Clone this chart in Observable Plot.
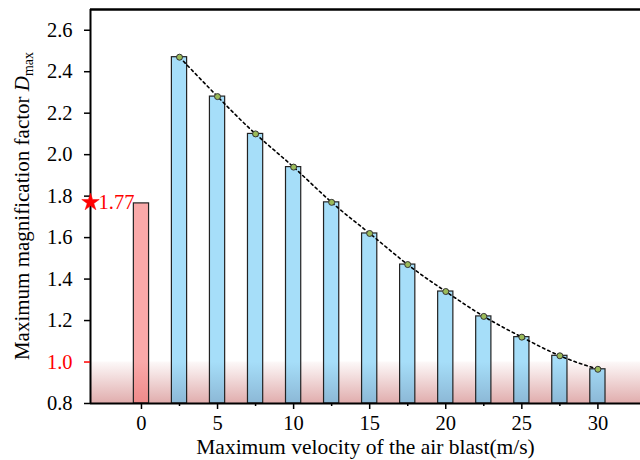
<!DOCTYPE html>
<html>
<head>
<meta charset="utf-8">
<script src="https://cdn.jsdelivr.net/npm/d3@7"></script>
<script src="https://cdn.jsdelivr.net/npm/@observablehq/plot@0.6"></script>
<style>
  html, body { margin: 0; padding: 0; background: #fff; }
  svg, svg text { font-family: "Liberation Serif", "Times New Roman", serif !important; }
</style>
</head>
<body>
<div id="chart"></div>
<script>
// ---- data ----
const velocities = [2.5, 5, 7.5, 10, 12.5, 15, 17.5, 20, 22.5, 25, 27.5, 30];
const dmax = [2.47, 2.28, 2.10, 1.94, 1.77, 1.62, 1.47, 1.34, 1.22, 1.12, 1.03, 0.965];
const baseVelocity = [0];
const baseDmax = [1.765];
const starValue = 1.77;
const yTicks = [0.8, 1.2, 1.4, 1.6, 1.8, 2.0, 2.2, 2.4, 2.6];
const yTicksRed = [1.0];
const xMajorTicks = [0, 5, 10, 15, 20, 25, 30];
const xMinorTicks = [2.5, 7.5, 12.5, 17.5, 22.5, 27.5];
const xLabel = "Maximum velocity of the air blast(m/s)";

const xDomain = [-3.35, 32.8];
const yDomain = [0.8, 2.7];

const blast = velocities.map((v, i) => ({v, d: dmax[i]}));
const base = baseVelocity.map((v, i) => ({v, d: baseDmax[i]}));
const halfW = 0.5;
const serif = "Liberation Serif, Times New Roman, serif";

const plot = Plot.plot({
  width: 640,
  height: 460,
  marginLeft: 90,
  marginRight: 0,
  marginTop: 9,
  marginBottom: 57,
  style: {fontFamily: serif, fontSize: "20px", color: "#000", background: "#fff"},
  x: {domain: xDomain},
  y: {domain: yDomain},
  marks: [
    // red band 0.8 - 1.0 (behind bars)
    Plot.rect([0], {x1: xDomain[0], x2: xDomain[1], y1: 0.8, y2: 1.0, fill: "url(#bandGrad)"}),
    // bars
    Plot.rect(base, {x1: d => d.v - halfW, x2: d => d.v + halfW, y1: yDomain[0], y2: "d",
      fill: "url(#pinkGrad)", stroke: "#222", strokeWidth: 1.2}),
    Plot.rect(blast, {x1: d => d.v - halfW, x2: d => d.v + halfW, y1: yDomain[0], y2: "d",
      fill: "url(#blueGrad)", stroke: "#222", strokeWidth: 1.2}),
    // dotted trend curve
    Plot.line(blast, {x: "v", y: "d", curve: "natural", stroke: "#000", strokeWidth: 1.6, strokeDasharray: "2.5,3.2"}),
    Plot.dot(blast, {x: "v", y: "d", r: 3, fill: "#9bbb59", stroke: "#333", strokeWidth: 1}),
    // frame (left, top, bottom)
    Plot.ruleX([xDomain[0]], {stroke: "#000", strokeWidth: 2}),
    Plot.ruleY([yDomain[1]], {stroke: "#000", strokeWidth: 2.4}),
    Plot.ruleY([yDomain[0]], {stroke: "#000", strokeWidth: 2}),
    // axes
    Plot.axisY(yTicks, {tickFormat: d3.format(".1f"), tickSize: 6, tickPadding: 12, strokeWidth: 1.5, label: null, fontSize: 20.5, fontFamily: serif}),
    Plot.axisY(yTicksRed, {tickFormat: d3.format(".1f"), tickSize: 6, tickPadding: 12, strokeWidth: 1.5, label: null, color: "red", fontSize: 20.5, fontFamily: serif}),
    Plot.axisX(xMajorTicks, {tickSize: 6, tickPadding: 6, strokeWidth: 1.5, label: null, fontSize: 20.5, fontFamily: serif}),
    Plot.axisX(xMinorTicks, {tickSize: 3, tickFormat: () => "", strokeWidth: 1.5, label: null}),
    Plot.text([xLabel], {frameAnchor: "bottom", dy: 50, text: d => d, fontSize: 21.5, fontFamily: serif, fill: "#000"}),
    // star annotation
    Plot.dot([starValue], {x: xDomain[0], y: d => d, symbol: "star", r: 5.5, fill: "red", stroke: "red", strokeWidth: 0.5}),
    Plot.text([starValue], {x: xDomain[0], y: d => d, text: d => d.toFixed(2), dx: 8, textAnchor: "start", fill: "red", fontSize: 20.5, fontFamily: serif})
  ]
});

// gradients in pixel space
const ys = plot.scale("y");
const y1px = ys.apply(1.0), y0px = ys.apply(0.8);
const svg = d3.select(plot.tagName === "svg" ? plot : plot.querySelector("svg"));
const defs = svg.insert("defs", ":first-child");
function grad(id, c1, c2, o1 = 1, o2 = 1) {
  const g = defs.append("linearGradient").attr("id", id)
    .attr("gradientUnits", "userSpaceOnUse")
    .attr("x1", 0).attr("x2", 0).attr("y1", y1px).attr("y2", y0px);
  g.append("stop").attr("offset", 0).attr("stop-color", c1).attr("stop-opacity", o1);
  g.append("stop").attr("offset", 1).attr("stop-color", c2).attr("stop-opacity", o2);
}
grad("blueGrad", "#a6def9", "#8cb8d6");
grad("pinkGrad", "#f9a9a9", "#ef8a8a");
grad("bandGrad", "#c86a6a", "#c86a6a", 0.04, 0.55);

// y axis label with italic D and subscript "max"
const lab = svg.append("text")
  .attr("transform", `translate(29, ${(ys.apply(2.7) + y0px) / 2}) rotate(-90)`)
  .attr("text-anchor", "middle")
  .attr("font-family", serif)
  .attr("font-size", 21)
  .attr("fill", "#000");
lab.append("tspan").text("Maximum magnification factor ");
lab.append("tspan").attr("font-style", "italic").text("D");
lab.append("tspan").attr("font-size", 14).attr("dy", 4).text("max");

document.getElementById("chart").appendChild(plot);
</script>
</body>
</html>
